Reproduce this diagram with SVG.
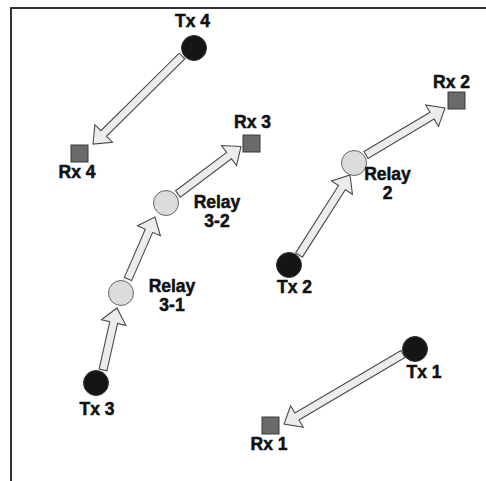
<svg xmlns="http://www.w3.org/2000/svg" width="486" height="481" viewBox="0 0 486 481">
<style>
.frame{fill:none;stroke:#333;stroke-width:2}
.arrow{fill:#ececec;stroke:#4a4a4a;stroke-width:1.1;stroke-linejoin:miter}
.tx{fill:#151515;stroke:#333;stroke-width:1}
.relay{fill:#dcdcdc;stroke:#666;stroke-width:1}
.rx{fill:#6a6a6a;stroke:#3a3a3a;stroke-width:1}
text{font-family:"Liberation Sans",Arial,sans-serif;font-weight:bold;font-size:17.5px;fill:#111;stroke:#111;stroke-width:0.5;text-anchor:middle}
</style>
<rect width="486" height="481" fill="#fff"/>
<path class="frame" d="M11,481 V8 H486"/>
<g id="connectors">
  <path class="arrow" transform="translate(182,56) rotate(135.3)" d="M0,-4 H110.2 V-12.5 L125.2,0 L110.2,12.5 V4 H0 Z"/>
  <path class="arrow" transform="translate(103,370) rotate(-77.3)" d="M0,-4 H48.6 V-12.5 L63.6,0 L48.6,12.5 V4 H0 Z"/>
  <path class="arrow" transform="translate(128,279) rotate(-66.5)" d="M0,-4 H52.6 V-12.5 L67.6,0 L52.6,12.5 V4 H0 Z"/>
  <path class="arrow" transform="translate(178,194) rotate(-37)" d="M0,-4 H63.9 V-12.5 L78.9,0 L63.9,12.5 V4 H0 Z"/>
  <path class="arrow" transform="translate(299,255) rotate(-57.5)" d="M0,-4 H79.9 V-12.5 L94.9,0 L79.9,12.5 V4 H0 Z"/>
  <path class="arrow" transform="translate(366,155) rotate(-30.75)" d="M0,-4 H76.9 V-12.5 L91.9,0 L76.9,12.5 V4 H0 Z"/>
  <path class="arrow" transform="translate(403,354) rotate(149.5)" d="M0,-4 H123.1 V-12.5 L138.1,0 L123.1,12.5 V4 H0 Z"/>
</g>
<g id="tx4"><circle class="tx" cx="194" cy="48" r="12.5"/><text x="192.5" y="27">Tx 4</text></g>
<g id="rx4"><rect class="rx" x="71" y="145" width="17" height="17"/><text x="77" y="178">Rx 4</text></g>
<g id="rx3"><rect class="rx" x="243" y="135" width="17" height="17"/><text x="252.5" y="128">Rx 3</text></g>
<g id="relay32"><circle class="relay" cx="166" cy="203" r="12.5"/><text x="217" y="208">Relay</text><text x="217" y="227">3-2</text></g>
<g id="relay31"><circle class="relay" cx="121" cy="293" r="12.5"/><text x="172" y="292">Relay</text><text x="172" y="311">3-1</text></g>
<g id="tx3"><circle class="tx" cx="96" cy="383" r="12.5"/><text x="97" y="415">Tx 3</text></g>
<g id="rx2"><rect class="rx" x="448" y="92" width="17" height="17"/><text x="451.5" y="88">Rx 2</text></g>
<g id="relay2"><circle class="relay" cx="354" cy="163" r="12.5"/><text x="387.5" y="180">Relay</text><text x="387.5" y="199">2</text></g>
<g id="tx2"><circle class="tx" cx="289" cy="265" r="12.5"/><text x="294.5" y="293">Tx 2</text></g>
<g id="tx1"><circle class="tx" cx="415" cy="349" r="12.5"/><text x="424" y="378">Tx 1</text></g>
<g id="rx1"><rect class="rx" x="262" y="417" width="17" height="17"/><text x="269" y="450">Rx 1</text></g>
</svg>
